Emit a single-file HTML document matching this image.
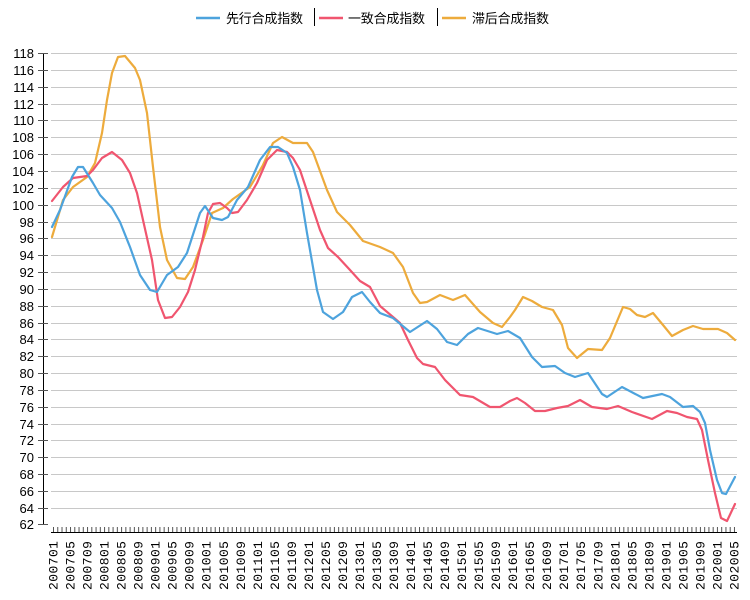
<!DOCTYPE html>
<html><head><meta charset="utf-8"><style>
html,body{margin:0;padding:0;background:#fff;width:750px;height:600px;overflow:hidden}
svg{display:block}
</style></head><body>
<svg width="750" height="600" xmlns="http://www.w3.org/2000/svg" font-family="'Liberation Sans','Noto Sans CJK SC',sans-serif">
<!-- legend -->
<g font-size="13" fill="#000">
<line x1="196" y1="18" x2="220" y2="18" stroke="#4da3dd" stroke-width="2.5"/>
<text x="226" y="23" textLength="77">先行合成指数</text>
<line x1="314.5" y1="8" x2="314.5" y2="26" stroke="#000"/>
<line x1="319" y1="18" x2="343" y2="18" stroke="#f0556f" stroke-width="2.5"/>
<text x="348" y="23" textLength="77">一致合成指数</text>
<line x1="437.5" y1="8" x2="437.5" y2="26" stroke="#000"/>
<line x1="442" y1="18" x2="466" y2="18" stroke="#edab3c" stroke-width="2.5"/>
<text x="472" y="23" textLength="77">滞后合成指数</text>
</g>
<!-- grid -->
<g stroke="#c8c8c8" stroke-width="1">
<line x1="51" x2="737" y1="53.5" y2="53.5"/><line x1="51" x2="737" y1="70.5" y2="70.5"/><line x1="51" x2="737" y1="87.5" y2="87.5"/><line x1="51" x2="737" y1="104.5" y2="104.5"/><line x1="51" x2="737" y1="120.5" y2="120.5"/><line x1="51" x2="737" y1="137.5" y2="137.5"/><line x1="51" x2="737" y1="154.5" y2="154.5"/><line x1="51" x2="737" y1="171.5" y2="171.5"/><line x1="51" x2="737" y1="188.5" y2="188.5"/><line x1="51" x2="737" y1="205.5" y2="205.5"/><line x1="51" x2="737" y1="222.5" y2="222.5"/><line x1="51" x2="737" y1="238.5" y2="238.5"/><line x1="51" x2="737" y1="255.5" y2="255.5"/><line x1="51" x2="737" y1="272.5" y2="272.5"/><line x1="51" x2="737" y1="289.5" y2="289.5"/><line x1="51" x2="737" y1="306.5" y2="306.5"/><line x1="51" x2="737" y1="323.5" y2="323.5"/><line x1="51" x2="737" y1="339.5" y2="339.5"/><line x1="51" x2="737" y1="356.5" y2="356.5"/><line x1="51" x2="737" y1="373.5" y2="373.5"/><line x1="51" x2="737" y1="390.5" y2="390.5"/><line x1="51" x2="737" y1="407.5" y2="407.5"/><line x1="51" x2="737" y1="424.5" y2="424.5"/><line x1="51" x2="737" y1="440.5" y2="440.5"/><line x1="51" x2="737" y1="457.5" y2="457.5"/><line x1="51" x2="737" y1="474.5" y2="474.5"/><line x1="51" x2="737" y1="491.5" y2="491.5"/><line x1="51" x2="737" y1="508.5" y2="508.5"/>
</g>
<g stroke="#000" stroke-width="1">
<line x1="43.5" y1="53" x2="43.5" y2="525"/>
<line x1="51" y1="532.5" x2="737" y2="532.5"/>
</g>
<path d="M53 529.5 H737" stroke="#555" stroke-width="5" stroke-dasharray="1 3.256"/>
<g font-size="13" text-anchor="end" fill="#000">
<text x="34" y="58">118</text><text x="34" y="75">116</text><text x="34" y="92">114</text><text x="34" y="109">112</text><text x="34" y="125">110</text><text x="34" y="142">108</text><text x="34" y="159">106</text><text x="34" y="176">104</text><text x="34" y="193">102</text><text x="34" y="210">100</text><text x="34" y="227">98</text><text x="34" y="243">96</text><text x="34" y="260">94</text><text x="34" y="277">92</text><text x="34" y="294">90</text><text x="34" y="311">88</text><text x="34" y="328">86</text><text x="34" y="344">84</text><text x="34" y="361">82</text><text x="34" y="378">80</text><text x="34" y="395">78</text><text x="34" y="412">76</text><text x="34" y="429">74</text><text x="34" y="445">72</text><text x="34" y="462">70</text><text x="34" y="479">68</text><text x="34" y="496">66</text><text x="34" y="513">64</text><text x="34" y="529">62</text>
</g>
<g stroke="#555" stroke-width="1">
<line x1="38" x2="48" y1="53.5" y2="53.5"/><line x1="38" x2="48" y1="70.5" y2="70.5"/><line x1="38" x2="48" y1="87.5" y2="87.5"/><line x1="38" x2="48" y1="104.5" y2="104.5"/><line x1="38" x2="48" y1="120.5" y2="120.5"/><line x1="38" x2="48" y1="137.5" y2="137.5"/><line x1="38" x2="48" y1="154.5" y2="154.5"/><line x1="38" x2="48" y1="171.5" y2="171.5"/><line x1="38" x2="48" y1="188.5" y2="188.5"/><line x1="38" x2="48" y1="205.5" y2="205.5"/><line x1="38" x2="48" y1="222.5" y2="222.5"/><line x1="38" x2="48" y1="238.5" y2="238.5"/><line x1="38" x2="48" y1="255.5" y2="255.5"/><line x1="38" x2="48" y1="272.5" y2="272.5"/><line x1="38" x2="48" y1="289.5" y2="289.5"/><line x1="38" x2="48" y1="306.5" y2="306.5"/><line x1="38" x2="48" y1="323.5" y2="323.5"/><line x1="38" x2="48" y1="339.5" y2="339.5"/><line x1="38" x2="48" y1="356.5" y2="356.5"/><line x1="38" x2="48" y1="373.5" y2="373.5"/><line x1="38" x2="48" y1="390.5" y2="390.5"/><line x1="38" x2="48" y1="407.5" y2="407.5"/><line x1="38" x2="48" y1="424.5" y2="424.5"/><line x1="38" x2="48" y1="440.5" y2="440.5"/><line x1="38" x2="48" y1="457.5" y2="457.5"/><line x1="38" x2="48" y1="474.5" y2="474.5"/><line x1="38" x2="48" y1="491.5" y2="491.5"/><line x1="38" x2="48" y1="508.5" y2="508.5"/><line x1="38" x2="48" y1="524.5" y2="524.5"/>
</g>
<!-- x labels -->
<g font-family="'Liberation Mono',monospace" font-size="13" text-anchor="end" fill="#000">
<text transform="translate(57.5,541) rotate(-90)" textLength="49">200701</text>
<text transform="translate(74.5,541) rotate(-90)" textLength="49">200705</text>
<text transform="translate(91.5,541) rotate(-90)" textLength="49">200709</text>
<text transform="translate(108.6,541) rotate(-90)" textLength="49">200801</text>
<text transform="translate(125.6,541) rotate(-90)" textLength="49">200805</text>
<text transform="translate(142.6,541) rotate(-90)" textLength="49">200809</text>
<text transform="translate(159.7,541) rotate(-90)" textLength="49">200901</text>
<text transform="translate(176.7,541) rotate(-90)" textLength="49">200905</text>
<text transform="translate(193.7,541) rotate(-90)" textLength="49">200909</text>
<text transform="translate(210.7,541) rotate(-90)" textLength="49">201001</text>
<text transform="translate(227.8,541) rotate(-90)" textLength="49">201005</text>
<text transform="translate(244.8,541) rotate(-90)" textLength="49">201009</text>
<text transform="translate(261.8,541) rotate(-90)" textLength="49">201101</text>
<text transform="translate(278.8,541) rotate(-90)" textLength="49">201105</text>
<text transform="translate(295.8,541) rotate(-90)" textLength="49">201109</text>
<text transform="translate(312.9,541) rotate(-90)" textLength="49">201201</text>
<text transform="translate(329.9,541) rotate(-90)" textLength="49">201205</text>
<text transform="translate(346.9,541) rotate(-90)" textLength="49">201209</text>
<text transform="translate(363.9,541) rotate(-90)" textLength="49">201301</text>
<text transform="translate(381,541) rotate(-90)" textLength="49">201305</text>
<text transform="translate(398,541) rotate(-90)" textLength="49">201309</text>
<text transform="translate(415,541) rotate(-90)" textLength="49">201401</text>
<text transform="translate(432,541) rotate(-90)" textLength="49">201405</text>
<text transform="translate(449.1,541) rotate(-90)" textLength="49">201409</text>
<text transform="translate(466.1,541) rotate(-90)" textLength="49">201501</text>
<text transform="translate(483.1,541) rotate(-90)" textLength="49">201505</text>
<text transform="translate(500.1,541) rotate(-90)" textLength="49">201509</text>
<text transform="translate(517.1,541) rotate(-90)" textLength="49">201601</text>
<text transform="translate(534.2,541) rotate(-90)" textLength="49">201605</text>
<text transform="translate(551.2,541) rotate(-90)" textLength="49">201609</text>
<text transform="translate(568.2,541) rotate(-90)" textLength="49">201701</text>
<text transform="translate(585.2,541) rotate(-90)" textLength="49">201705</text>
<text transform="translate(602.3,541) rotate(-90)" textLength="49">201709</text>
<text transform="translate(619.3,541) rotate(-90)" textLength="49">201801</text>
<text transform="translate(636.3,541) rotate(-90)" textLength="49">201805</text>
<text transform="translate(653.3,541) rotate(-90)" textLength="49">201809</text>
<text transform="translate(670.4,541) rotate(-90)" textLength="49">201901</text>
<text transform="translate(687.4,541) rotate(-90)" textLength="49">201905</text>
<text transform="translate(704.4,541) rotate(-90)" textLength="49">201909</text>
<text transform="translate(721.4,541) rotate(-90)" textLength="49">202001</text>
<text transform="translate(738.5,541) rotate(-90)" textLength="49">202005</text>
</g>
<!-- series -->
<g fill="none" stroke-width="2.2" stroke-linejoin="round" stroke-linecap="round">
<polyline stroke="#edab3c" points="52,237 63,200 73,187 87,177 95,163 102,133 107,100 112,73 118,57 125,56 135,68 140,80 147,113 153,167 160,227 167,260 177,278 185,279 193,267 203,240 212,213 223,208 233,199 250,187 263,165 273,143 282,137 293,143 307,143 313,152 327,190 337,212 350,225 363,241 380,247 393,253 403,267 413,293 420,303 427,302 440,295 453,300 465,295 480,312 493,323 502,327 510,317 515,310 523,297 532,301 542,307 553,310 562,325 568,348 577,358 588,349 602,350 610,338 623,307 630,309 637,315 645,317 653,313 663,325 672,336 683,330 693,326 703,329 718,329 727,333 735,340"/>
<polyline stroke="#f0556f" points="52,201 63,187 73,178 87,176 93,170 102,158 112,152 122,160 130,173 137,193 143,220 152,260 158,300 165,318 172,317 180,307 188,292 195,270 203,237 208,213 213,204 220,203 227,208 232,213 238,212 247,200 257,183 267,160 277,150 287,152 293,158 300,170 310,200 320,230 328,248 338,257 350,270 360,281 370,287 380,306 393,317 400,323 408,340 417,358 423,364 435,367 445,380 460,395 473,397 490,407 500,407 510,401 517,398 525,403 535,411 545,411 557,408 568,406 580,400 592,407 607,409 618,406 632,412 652,419 667,411 677,413 687,417 697,419 702,430 708,460 715,493 721,518 727,521 735,504"/>
<polyline stroke="#4da3dd" points="52,227 60,210 72,177 78,167 83,167 93,183 100,195 112,208 120,222 130,247 140,275 150,290 157,292 167,275 178,267 187,253 200,213 205,206 213,218 222,220 228,217 237,200 248,187 260,160 270,147 278,147 287,153 293,167 300,190 307,233 317,290 323,312 333,319 343,312 352,297 362,292 370,302 380,313 393,318 410,332 427,321 437,329 447,342 457,345 468,334 478,328 497,334 508,331 520,338 532,357 542,367 555,366 565,373 575,377 588,373 602,394 607,397 622,387 643,398 662,394 670,397 683,407 693,406 700,412 705,423 710,450 717,480 722,493 726,494 735,477"/>
</g>
</svg>
</body></html>
